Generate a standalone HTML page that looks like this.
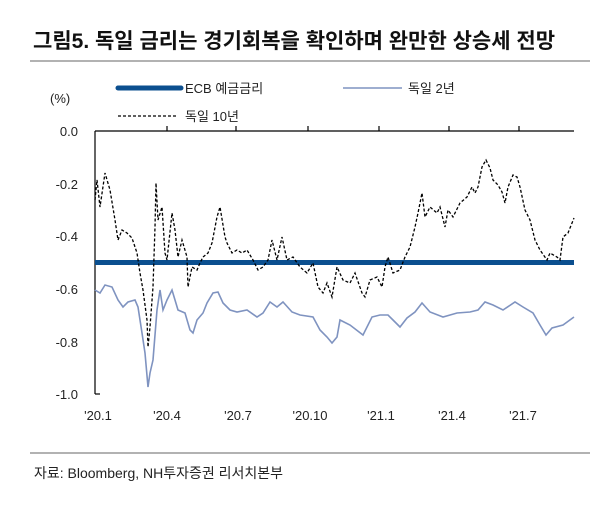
<!DOCTYPE html>
<html><head><meta charset="utf-8"><style>
html,body{margin:0;padding:0;background:#fff;}
body{width:614px;height:522px;overflow:hidden;position:relative;font-family:"Liberation Sans","Noto Sans CJK KR",sans-serif;}
</style></head><body>
<svg width="614" height="522" viewBox="0 0 614 522" xmlns="http://www.w3.org/2000/svg" style="position:absolute;left:0;top:0">
<text x="33" y="48" font-family="'Liberation Sans','Noto Sans CJK KR',sans-serif" font-size="21" font-weight="bold" fill="#111">그림5. 독일 금리는 경기회복을 확인하며 완만한 상승세 전망</text>
<line x1="30" y1="61" x2="590" y2="61" stroke="#999" stroke-width="1.5"/>
<line x1="30" y1="453" x2="590" y2="453" stroke="#999" stroke-width="1.5"/>
<text x="34" y="478" font-size="14" fill="#222" font-family="'Liberation Sans','Noto Sans CJK KR',sans-serif">자료: Bloomberg, NH투자증권 리서치본부</text>
<g font-family="'Liberation Sans','Noto Sans CJK KR',sans-serif" font-size="13" fill="#222">
<line x1="118" y1="88" x2="181" y2="88" stroke="#0b4f8f" stroke-width="5" stroke-linecap="round"/>
<text x="185" y="93">ECB 예금금리</text>
<line x1="343" y1="88" x2="402" y2="88" stroke="#7f93c0" stroke-width="1.5"/>
<text x="408" y="93">독일 2년</text>
<line x1="118" y1="116" x2="178" y2="116" stroke="#000" stroke-width="1.2" stroke-dasharray="3,2"/>
<text x="185" y="121">독일 10년</text>
<text x="50" y="103">(%)</text>
<g text-anchor="end">
<text x="78" y="136">0.0</text>
<text x="78" y="189">-0.2</text>
<text x="78" y="241">-0.4</text>
<text x="78" y="294">-0.6</text>
<text x="78" y="347">-0.8</text>
<text x="78" y="399">-1.0</text>
</g>
<g text-anchor="middle">
<text x="98" y="420">'20.1</text>
<text x="167" y="420">'20.4</text>
<text x="238" y="420">'20.7</text>
<text x="310" y="420">'20.10</text>
<text x="381" y="420">'21.1</text>
<text x="452" y="420">'21.4</text>
<text x="523" y="420">'21.7</text>
</g>
</g>
<g stroke="#000" stroke-width="1.2">
<line x1="95" y1="131" x2="574" y2="131"/>
<line x1="95" y1="131" x2="95" y2="394"/>
<line x1="95" y1="394" x2="100" y2="394"/>
<line x1="167" y1="126" x2="167" y2="131"/>
<line x1="236" y1="126" x2="236" y2="131"/>
<line x1="308" y1="126" x2="308" y2="131"/>
<line x1="379" y1="126" x2="379" y2="131"/>
<line x1="449" y1="126" x2="449" y2="131"/>
<line x1="519" y1="126" x2="519" y2="131"/>
</g>
<polyline fill="none" stroke="#7f93c0" stroke-width="1.6" points="95,290 100,293 105,285 112,287 118,300 123,307 128,302 135,300 138,307 142,333 145,353 148,387 150,373 153,360 157,310 160,290 163,310 167,300 172,290 175,300 178,310 185,313 190,330 193,333 197,320 203,313 207,303 213,293 218,292 223,303 230,310 237,312 247,310 257,317 263,313 270,302 277,307 283,302 292,312 300,315 313,317 320,330 327,337 332,343 337,337 340,320 350,325 363,335 372,317 380,315 388,315 393,320 400,327 407,318 415,312 422,303 430,312 443,317 457,313 470,312 478,310 485,302 493,305 503,310 515,302 523,307 533,313 540,325 546,335 552,328 563,325 574,317"/>
<line x1="95" y1="262.5" x2="574" y2="262.5" stroke="#0b4f8f" stroke-width="5"/>
<polyline fill="none" stroke="#000" stroke-width="1.3" stroke-dasharray="3,2" points="95,200 97,180 100,207 105,173 110,190 115,220 118,240 122,230 127,233 132,238 137,253 140,273 143,290 147,320 148,347 150,327 153,287 155,227 156,183 158,220 162,207 165,253 167,260 172,213 175,230 178,257 182,240 187,257 188,287 192,267 197,270 200,263 203,257 208,253 212,243 217,217 220,207 225,237 227,243 232,253 237,250 242,253 247,250 253,260 258,270 263,267 268,260 272,240 277,260 282,237 287,260 293,257 300,267 307,273 313,263 318,287 323,293 327,283 332,297 337,267 343,280 350,283 355,273 362,293 365,297 370,280 377,277 382,287 385,267 388,257 393,273 400,270 405,257 410,247 415,227 418,213 422,193 425,217 430,207 437,213 440,207 445,227 448,210 453,217 460,203 467,197 472,187 475,193 478,187 482,167 486,160 490,168 493,180 498,185 502,192 505,203 508,187 513,175 517,177 520,187 525,210 530,220 535,240 540,250 547,260 550,253 557,257 560,260 563,237 568,233 574,218"/>
</svg>
</body></html>
